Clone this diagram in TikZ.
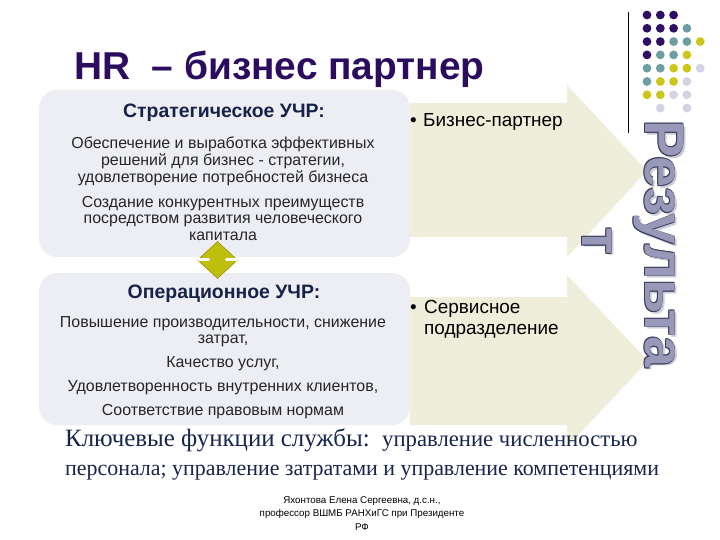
\documentclass[tikz,border=0pt]{standalone}
\usepackage{fontspec}
\setmainfont{Liberation Sans}
\newfontfamily\bodyserif{Liberation Serif}
\usetikzlibrary{shapes.geometric}
\definecolor{beige}{RGB}{238,238,219}
\definecolor{boxgray}{RGB}{237,238,243}
\definecolor{titlepurple}{RGB}{43,12,94}
\definecolor{headnavy}{RGB}{22,34,72}
\definecolor{dotpurple}{RGB}{48,14,100}
\definecolor{dotteal}{RGB}{108,158,162}
\definecolor{dotyellow}{RGB}{204,198,28}
\definecolor{dotlight}{RGB}{210,212,228}
\definecolor{resfill}{RGB}{152,152,184}
\definecolor{resline}{RGB}{60,60,92}
\definecolor{resshadow}{RGB}{205,205,215}
\definecolor{serifnavy}{RGB}{24,38,78}
\definecolor{olive}{RGB}{192,190,12}
\definecolor{olivedark}{RGB}{150,148,0}
\begin{document}
\begin{tikzpicture}[x=1bp,y=-1bp,
  txt/.style={inner sep=0pt, anchor=base},
  bodytxt/.style={txt, font=\fontsize{16}{19}\selectfont, text=black!85},
  headtxt/.style={txt, font=\fontsize{19.5}{22}\selectfont\bfseries, text=headnavy},
  righttxt/.style={inner sep=0pt, anchor=base west, font=\fontsize{19}{22}\selectfont, text=black},
  restxt/.style={inner sep=0pt, anchor=base, rotate=-90, font=\fontsize{56}{60}\selectfont\bfseries},
  credit/.style={txt, font=\fontsize{9.8}{12}\selectfont, text=black},
  arrowbg/.style={fill=beige},
  panel/.style={fill=boxgray, rounded corners=18bp},
  dot/.style={radius=4.4}
]
\useasboundingbox (0,0) rectangle (720,540);
\fill[white] (0,0) rectangle (720,540);

% background arrows
\fill[arrowbg] (410,103) -- (567,103) -- (567,85) -- (647,171) -- (567,257) -- (567,237) -- (410,237) -- cycle;
\fill[arrowbg] (410,297) -- (567,297) -- (567,275) -- (648,361) -- (567,447) -- (567,425) -- (410,425) -- cycle;

% panels
\fill[panel] (39,90) rectangle (410,257);
\fill[panel] (39,273) rectangle (410,425);

% title
\node[inner sep=0pt, anchor=base west, font=\fontsize{39}{44}\selectfont\bfseries, text=titlepurple] (title) at (74,80) {HR\ \ – бизнес партнер};

% upper panel text
\node[headtxt] (h1) at (224,118) {Стратегическое УЧР:};
\node[bodytxt] (u1) at (223,149) {Обеспечение и выработка эффективных};
\node[bodytxt] (u2) at (223,166) {решений для бизнес - стратегии,};
\node[bodytxt] (u3) at (223,183) {удовлетворение потребностей бизнеса};
\node[bodytxt] (u4) at (223,208) {Создание конкурентных преимуществ};
\node[bodytxt] (u5) at (223,224) {посредством развития человеческого};
\node[bodytxt] (u6) at (223,241) {капитала};

% lower panel text
\node[headtxt] (h2) at (224,298) {Операционное УЧР:};
\node[bodytxt] (l1) at (223,327) {Повышение производительности, снижение};
\node[bodytxt] (l2) at (223,343) {затрат,};
\node[bodytxt] (l3) at (223,367) {Качество услуг,};
\node[bodytxt] (l4) at (223,391) {Удовлетворенность внутренних клиентов,};
\node[bodytxt] (l5) at (223,415) {Соответствие правовым нормам};

% diamond link
\node[diamond, aspect=1.08, minimum width=40bp, minimum height=37bp, inner sep=0pt, fill=olive, draw=olivedark, line width=0.6bp] (link) at (217.5,260) {};
\draw[white, line width=3bp, line cap=round] ([xshift=1.5bp]link.west) -- ++(10,0);
\draw[white, line width=3bp, line cap=round] ([xshift=-1.5bp]link.east) -- ++(-10,0);

% right texts
\node[righttxt] (b1) at (410,127) {•};
\node[righttxt] (r1) at (423,127) {Бизнес-партнер};
\node[righttxt] (b2) at (410,313) {•};
\node[righttxt] (r2) at (424,313) {Сервисное};
\node[righttxt] (r3) at (424,334) {подразделение};

% dots
\foreach \c/\r/\col in {0/0/dotpurple,1/0/dotpurple,2/0/dotpurple,
  0/1/dotpurple,1/1/dotpurple,2/1/dotpurple,3/1/dotteal,
  0/2/dotpurple,1/2/dotpurple,2/2/dotteal,3/2/dotteal,4/2/dotyellow,
  0/3/dotpurple,1/3/dotteal,2/3/dotteal,3/3/dotyellow,
  0/4/dotteal,1/4/dotteal,2/4/dotyellow,3/4/dotyellow,4/4/dotlight,
  0/5/dotteal,1/5/dotyellow,2/5/dotyellow,3/5/dotlight,
  0/6/dotyellow,1/6/dotyellow,2/6/dotlight,3/6/dotlight,
  1/7/dotlight,3/7/dotlight}
  \fill[\col] ({647+13.3*\c},{15+13.3*\r}) circle[dot];
\draw[black, line width=0.8bp] (628,12) -- (628,133);

% Результат
\node[restxt, text=resshadow] (rs1) at (647.5,246.5) {Результа};
\node[restxt, text=resshadow] (rs2) at (584.5,243.5) {т};
\foreach \dx/\dy [count=\k] in {-0.7/-0.7,0.7/-0.7,-0.7/0.7,0.7/0.7}{
  \node[restxt, text=resline] (ro\k) at (645+\dx,244+\dy) {Результа};
  \node[restxt, text=resline] (rt\k) at (582+\dx,241+\dy) {т};
}
\node[restxt, text=resfill] (res1) at (645,244) {Результа};
\node[restxt, text=resfill] (res2) at (582,241) {т};

% bottom serif text
\node[inner sep=0pt, anchor=base west, text=serifnavy] (k1) at (65,446) {\bodyserif\fontsize{25}{30}\selectfont Ключевые функции службы:\ \ \fontsize{22.8}{27}\selectfont управление численностью};
\node[inner sep=0pt, anchor=base west, text=serifnavy] (k2) at (65,475) {\bodyserif\fontsize{22}{27}\selectfont персонала; управление затратами и управление компетенциями};

% credits
\node[credit] (c1) at (362,503) {Яхонтова Елена Сергеевна, д.с.н.,};
\node[credit] (c2) at (362,516.5) {профессор ВШМБ РАНХиГС при Президенте};
\node[credit] (c3) at (362,530) {РФ};
\end{tikzpicture}
\end{document}
